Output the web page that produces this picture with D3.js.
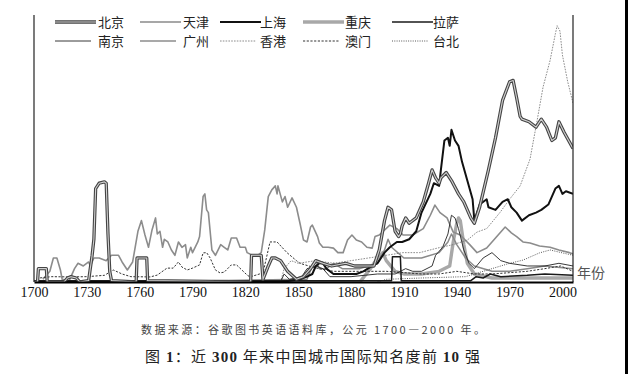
<!DOCTYPE html>
<html lang="zh">
<head>
	<meta charset="UTF-8">
	<title>近300年来中国城市国际知名度前10强</title>
	<style>
		html, body {width: 100%; height: 100%; padding: 0; margin: 0; background: #fff;}
		svg {display: block;}
		.line {fill: none; stroke-linejoin: round;}
		.legend text {font-family: "Noto Sans CJK SC", sans-serif; font-size: 13px; fill: #222;}
		.tick text {font-family: "Liberation Serif", serif; font-size: 14px; fill: #111;}
	</style>
	<script src="https://d3js.org/d3.v7.min.js"></script>
</head>
<body>

<script>
// legend order, two rows of five
var cities = ['北京', '天津', '上海', '重庆', '拉萨', '南京', '广州', '香港', '澳门', '台北'];
var yearTicks = [1700, 1730, 1760, 1790, 1820, 1850, 1880, 1910, 1940, 1970, 2000];

// [year, index] (no y axis, index 0-100)
var beijing = [[1700,0],[1702,0],[1702.5,5],[1707,5],[1707.5,0],[1717,0],[1719,1.5],[1721,2],[1724,1.5],[1726,0],
	[1731,0.5],[1733,10],[1734,16],[1735,35],[1737,37],[1740,37.5],[1741,37],[1742,18],[1743,4],[1744,0.5],
	[1758,0],[1758.5,9],[1764,9],[1764.5,0.5],[1823,0],[1823.5,10],[1829,10],[1830,1],[1833,6],[1835,9],
	[1837,9],[1840,8],[1844,4],[1849,1],[1853,2],[1857,5],[1860,8],[1864,7],[1869,6],[1877,7],[1882,6],
	[1888,6],[1893,6],[1896,12],[1899,23],[1901,28],[1903,27],[1905,19],[1907,17],[1908,18],[1909,21],
	[1911,24],[1913,22],[1917,24],[1921,30],[1924,37],[1926,42],[1928,39],[1930,37],[1931,39],[1934,41],
	[1937,38],[1941,33],[1944,30],[1948,24],[1950,22],[1953,28],[1958,42],[1962,54],[1966,68],[1970,75],
	[1972,75.5],[1974,69],[1976,62],[1977,61],[1981,60],[1985,58],[1988,61],[1991,58],[1994,53],[1996,54],
	[1998,60],[2001,56],[2006,50]];

var tianjin = [[1700,0],[1760,0.5],[1800,0.5],[1855,1],[1858,6],[1860,8],[1862,5],[1866,5],[1870,7],
	[1875,5],[1885,5],[1895,7],[1899,12],[1901,16],[1903,13],[1910,9],[1920,9],[1930,11],[1935,15],
	[1937,18],[1940,14],[1945,9],[1950,6],[1960,4],[1970,4],[1980,5],[1990,6],[2006,5]];

var shanghai = [[1700,0],[1840,0],[1851,1],[1855,2],[1858,3],[1860,6],[1862,7],[1864,7],[1866,5],[1870,3],
	[1875,3],[1879,3],[1883,3],[1887,4],[1892,6],[1895,7],[1896,8],[1899,11],[1902,13],[1906,15],[1909,15],
	[1913,16],[1917,19],[1920,26],[1925,33],[1927,37],[1930,36],[1931,42],[1933,53],[1935,54],[1936,51],
	[1937,57],[1939,53],[1941,51],[1943,45],[1946,38],[1949,31],[1950,23],[1953,29],[1957,31],[1958,28],
	[1962,27],[1966,30],[1969,31],[1971,28],[1974,26],[1977,23],[1981,25],[1985,26],[1988,27],[1992,29],
	[1996,35],[1998,36],[2000,33],[2002,34],[2006,33]];

var chongqing = [[1700,0],[1885,0],[1891,5],[1895,9],[1898,11],[1900,8],[1905,4],[1910,3],[1920,3],
	[1930,4],[1936,6],[1938,15],[1940,22],[1941,24],[1942,23],[1944,14],[1946,7],[1950,3],[1960,1.5],
	[2006,1.5]];

var lhasa = [[1700,0.5],[1903,0.5],[1903.5,9.5],[1908,9.5],[1908.5,0.5],[1948,0.5],[1951,2],[1955,1.5],
	[1959,3],[1965,2],[1980,2.5],[1990,3],[2006,2.5]];

var nanjing = [[1700,0],[1840,0],[1842,3],[1845,1],[1852,2],[1855,5],[1860,6],[1864,5],[1868,2],[1880,2],
	[1895,3],[1905,3],[1911,5],[1915,4],[1920,4],[1926,6],[1928,10],[1932,13],[1935,18],[1937,25],
	[1939,24],[1941,20],[1944,12],[1947,7],[1950,5],[1955,9],[1960,11],[1965,8],[1970,7],[1980,6],
	[1990,6],[1998,7],[2006,6]];

var guangzhou = [[1705,1],[1709,4],[1711,9],[1713,9],[1715,4.5],[1716,1],[1720,0.5],[1723,5],[1725,7],
	[1728,6],[1731,7.5],[1732,6],[1734,9],[1737,9],[1741,8],[1744,10],[1748,10],[1750,7.5],[1753,4.5],
	[1756,7.5],[1759,19],[1761,23],[1763,17.6],[1765,13],[1767,19.5],[1769,24],[1770,18],[1771.5,19],
	[1773,13],[1774,16],[1776,15],[1778,12],[1780,10],[1782,15],[1784,13],[1786,14],[1787,9],[1789,13],
	[1790,11],[1793,15],[1794,17],[1796,32],[1797,33],[1798,27],[1799,26],[1801,12],[1803,10],[1806,14],
	[1808,13],[1810,12],[1812,16.5],[1815,16.5],[1817,13],[1820,13],[1821,11],[1824,10],[1827,10],
	[1829,11],[1831,19.5],[1833,32],[1835,34.5],[1837,36],[1838,33],[1838.5,36],[1841,30],[1842.5,32],
	[1844,28],[1846.5,31.5],[1849,28],[1851,22],[1853,15.7],[1855,15],[1857,20.6],[1858,21.3],[1861,17],
	[1862,14.6],[1864,13],[1867,13],[1870,12.7],[1872.5,11],[1875.5,11],[1878,15.7],[1880.5,17.6],
	[1883,15.7],[1886,15],[1889,13],[1892,12.7],[1893.6,17],[1896,17.6],[1902,21.3],[1906,20],
	[1909.5,17.6],[1915,17.6],[1921,20],[1925,25],[1927.6,28.8],[1930.5,26],[1934.5,24],[1938,18.7],
	[1942,17.6],[1947.5,13.9],[1951.5,11],[1957,12.7],[1962,16.5],[1967.5,20.6],[1971,18.4],[1974,17],
	[1977.6,15],[1981.6,14.6],[1987,13.5],[1993,13],[1998,12],[2004,11],[2006,10.5]];

var hongkong = [[1840,0],[1842,5],[1846,8],[1850,7],[1860,8],[1870,7],[1880,8],[1890,9],[1900,10],
	[1909.5,11],[1919,11],[1929,12.7],[1938,14],[1946,15.7],[1951.5,18.7],[1957,20],[1964.5,26],[1970,31],
	[1976,36],[1981.6,46],[1985.5,60],[1989,73],[1993,83],[1996,93],[1997,96],[1998.6,94],[2000,85],
	[2003,75],[2006,67]];

var macao = [[1700,0],[1703,1.5],[1710,2],[1720,1.9],[1730,2],[1740,2.5],[1745,4.5],[1750,3],[1755,2],
	[1766,1.9],[1770,2.6],[1775.5,5.2],[1779,5.2],[1782,7.5],[1784,5.6],[1787,4.5],[1790,5.2],[1794,6.4],
	[1796,10.9],[1798,11],[1800,9],[1803,4.5],[1805.6,3.4],[1808,3.7],[1812,6.4],[1815,6.4],[1818,4.5],
	[1821,2.6],[1822.6,1.9],[1830,3.4],[1834,15],[1838,15],[1843.6,11],[1849,8],[1851,7],[1858,5.6],
	[1862,5],[1870,4],[1880,4],[1890,4],[1900,4],[1910,3.5],[1920,3],[1930,3],[1940,4],[1950,3],
	[1960,3],[1970,3.5],[1980,4],[1990,5],[1999,6],[2006,4]];

var taipei = [[1895,0],[1900,1],[1920,1.5],[1945,2],[1950,3],[1960,5],[1970,7],[1977.6,8.2],[1987,10.9],
	[1993,12],[2000,10.9],[2006,10]];
</script>

<script>
	var width = 628, height = 374;
	var plot = {left: 34, right: 573, top: 15, bottom: 282};

	var svg = d3.select('body').append('svg')
		.attr('width', width)
		.attr('height', height);

	var x = d3.scaleLinear().domain([1700, 2006]).range([plot.left, plot.right]);
	var y = d3.scaleLinear().domain([0, 100]).range([plot.bottom, plot.top]);

	var line = d3.line()
		.x(function (d) { return x(d[0]); })
		.y(function (d) { return y(d[1]); });

	// how each city is drawn; Beijing gets a double stroke
	var styles = {
		'北京': {data: beijing, stroke: '#444', width: 3.3, inner: '#d0d0d0'},
		'天津': {data: tianjin, stroke: '#8a8a8a', width: 1.5},
		'上海': {data: shanghai, stroke: '#111', width: 2},
		'重庆': {data: chongqing, stroke: '#a8a8a8', width: 3.4},
		'拉萨': {data: lhasa, stroke: '#1a1a1a', width: 1.5},
		'南京': {data: nanjing, stroke: '#222', width: 0.9},
		'广州': {data: guangzhou, stroke: '#8c8c8c', width: 1.6},
		'香港': {data: hongkong, stroke: '#6e6e6e', width: 0.8, dash: '1.6,1.2'},
		'澳门': {data: macao, stroke: '#333', width: 1, dash: '2.2,1.5'},
		'台北': {data: taipei, stroke: '#444', width: 0.9, dash: '1,1.3'}
	};
	var drawOrder = ['重庆', '广州', '天津', '香港', '澳门', '台北', '南京', '拉萨', '上海', '北京'];

	svg.append('clipPath').attr('id', 'clip')
		.append('rect')
		.attr('x', plot.left).attr('y', plot.top - 5)
		.attr('width', plot.right - plot.left).attr('height', plot.bottom - plot.top + 5);

	var g = svg.append('g').attr('clip-path', 'url(#clip)');

	function drawLine(sel, s, d) {
		sel.append('path')
			.attr('class', 'line')
			.attr('d', d)
			.attr('stroke', s.stroke)
			.attr('stroke-width', s.width)
			.attr('stroke-dasharray', s.dash || null);
		if (s.inner) {
			sel.append('path')
				.attr('class', 'line')
				.attr('d', d)
				.attr('stroke', s.inner)
				.attr('stroke-width', 1.1);
		}
	}

	drawOrder.forEach(function (name) {
		var s = styles[name];
		drawLine(g, s, line(s.data));
	});

	// frame: left axis, right edge, bottom axis
	svg.append('line')
		.attr('x1', plot.left).attr('x2', plot.left)
		.attr('y1', plot.top).attr('y2', plot.bottom)
		.attr('stroke', '#222').attr('stroke-width', 1.2);
	svg.append('line')
		.attr('x1', plot.right).attr('x2', plot.right)
		.attr('y1', plot.top).attr('y2', plot.bottom)
		.attr('stroke', '#222').attr('stroke-width', 1.2);

	var xAxis = svg.append('g')
		.attr('transform', 'translate(0,' + plot.bottom + ')')
		.call(d3.axisBottom(x).tickValues(yearTicks).tickFormat(d3.format('d')).tickSize(0).tickPadding(5));
	xAxis.select('.domain').attr('stroke', '#000').attr('stroke-width', 2);

	svg.append('text')
		.attr('x', 577).attr('y', 278)
		.attr('font-family', '"Noto Sans CJK SC", sans-serif')
		.attr('font-size', 14).attr('fill', '#555')
		.text('年份');

	// legend, two rows
	var legend = svg.append('g').attr('class', 'legend');
	var colX = [55, 140, 220, 303, 392];
	var textX = [98, 183, 260, 345, 433];
	cities.forEach(function (name, i) {
		var s = styles[name];
		var row = Math.floor(i / 5), col = i % 5;
		var lx = colX[col], ly = row === 0 ? 22 : 41;
		var len = row === 0 ? 41 : 36;
		var item = legend.append('g');
		drawLine(item, s, 'M' + lx + ',' + ly + 'H' + (lx + len));
		item.append('text')
			.attr('x', textX[col])
			.attr('y', ly + 4.5)
			.text(name);
	});

	// captions
	svg.append('text')
		.attr('x', 141).attr('y', 334)
		.attr('font-family', '"Noto Sans CJK SC", sans-serif')
		.attr('font-size', 11).attr('fill', '#444')
		.attr('textLength', 344).attr('lengthAdjust', 'spacing')
		.text('数据来源：谷歌图书英语语料库，公元 1700—2000 年。');

	var title = svg.append('text')
		.attr('x', 145).attr('y', 362)
		.attr('font-family', '"Noto Sans CJK SC", sans-serif')
		.attr('font-size', 15).attr('fill', '#222')
		.attr('textLength', 335).attr('lengthAdjust', 'spacing');
	[['图 ', false], ['1', true], ['：近 ', false], ['300', true], [' 年来中国城市国际知名度前 ', false], ['10', true], [' 强', false]]
		.forEach(function (p) {
			title.append('tspan')
				.attr('font-family', p[1] ? '"Liberation Serif", serif' : null)
				.attr('font-weight', p[1] ? 'bold' : null)
				.text(p[0]);
		});

	// dark strip on the right edge of the scan
	svg.append('rect')
		.attr('x', 625).attr('y', 0).attr('width', 3).attr('height', height)
		.attr('fill', '#000');
</script>

</body>
</html>
